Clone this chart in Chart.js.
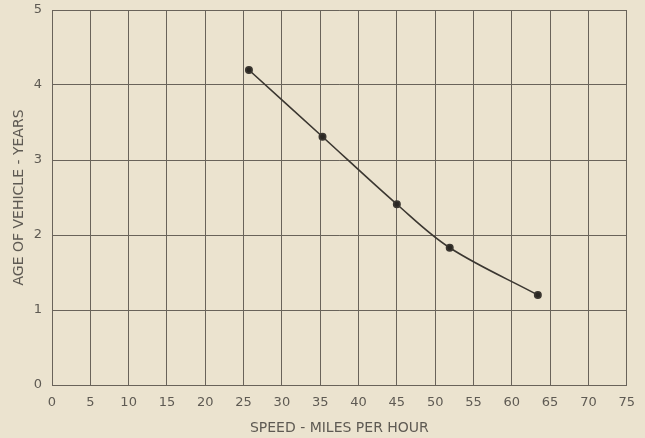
<!DOCTYPE html>
<html>
<head>
<meta charset="utf-8">
<script src="https://cdn.jsdelivr.net/npm/chart.js@4"></script>
<style>
    html, body { margin: 0; padding: 0; background: #ebe3cf; }
    #wrap { width: 645px; height: 438px; }
</style>
</head>
<body>
<div id="wrap"><canvas id="grafico" width="645" height="438"></canvas></div>
<script>
/* dados */
const velocidade = [25.7, 35.3, 45.0, 51.9, 63.4];
const idadeVeiculo = [4.20, 3.31, 2.41, 1.83, 1.20];
const ticksX = [0, 5, 10, 15, 20, 25, 30, 35, 40, 45, 50, 55, 60, 65, 70, 75];
const ticksY = [0, 1, 2, 3, 4, 5];

const corGrade = "#69635a";
const corTexto = "#5e5a53";
const fonte = "'DejaVu Sans', sans-serif";

const pontos = velocidade.map((v, i) => ({ x: v, y: idadeVeiculo[i] }));

new Chart(document.getElementById("grafico").getContext("2d"), {
    type: "scatter",
    data: {
        datasets: [{
            data: pontos,
            showLine: true,
            borderColor: "#3b3731",
            borderWidth: 1.6,
            backgroundColor: "#2a2723",
            pointRadius: 3.2,
            tension: 0.35
        }]
    },
    options: {
        responsive: false,
        animation: false,
        layout: { padding: { top: 0, right: 18, bottom: 0, left: 0 } },
        plugins: { legend: { display: false }, tooltip: { enabled: false } },
        scales: {
            x: {
                type: "linear",
                min: 0, max: 75,
                afterBuildTicks: axis => { axis.ticks = ticksX.map(v => ({ value: v })); },
                afterFit: axis => { axis.height = 53; },
                grid: { color: corGrade, lineWidth: 1, drawTicks: false },
                border: { color: corGrade, width: 1 },
                ticks: { color: corTexto, font: { family: fonte, size: 13 }, padding: 10 },
                title: {
                    display: true, text: "SPEED - MILES PER HOUR",
                    color: corTexto, font: { family: fonte, size: 14 }, padding: { top: 0, bottom: 1 }
                }
            },
            y: {
                type: "linear",
                min: 0, max: 5,
                afterBuildTicks: axis => { axis.ticks = ticksY.map(v => ({ value: v })); },
                afterFit: axis => { axis.width = 52; axis.paddingTop = 10; axis.paddingBottom = 0; },
                grid: { color: corGrade, lineWidth: 1, drawTicks: false },
                border: { color: corGrade, width: 1 },
                ticks: { color: corTexto, font: { family: fonte, size: 13 }, padding: 10 },
                title: {
                    display: true, text: "AGE OF VEHICLE - YEARS",
                    color: corTexto, font: { family: fonte, size: 14 }, padding: { top: 11, bottom: 0 }
                }
            }
        }
    }
});
</script>
</body>
</html>
